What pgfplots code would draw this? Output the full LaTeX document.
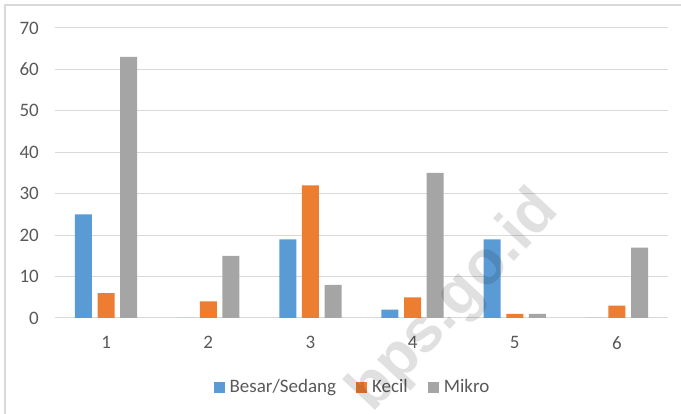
\documentclass[border=0pt]{standalone}
\usepackage{fontspec}
\setmainfont{Carlito}
\newfontfamily\wmfont{Liberation Sans}
\usepackage{pgfplots}
\usepackage{pgfplotstable}
\pgfplotsset{compat=1.18}

\definecolor{cBesar}{HTML}{5B9BD5}
\definecolor{cKecil}{HTML}{ED7D31}
\definecolor{cMikro}{HTML}{A5A5A5}
\definecolor{cGrid}{HTML}{D9D9D9}
\definecolor{cText}{HTML}{595959}
\definecolor{cBorder}{HTML}{D9D9D9}

% jumlah per kategori
\pgfplotstableread{
x besar kecil mikro
1 25 6  63
2 0  4  15
3 19 32 8
4 2  5  35
5 19 1  1
6 0  3  17
}\data

\begin{document}
\begin{tikzpicture}
\useasboundingbox (0,0) rectangle (681bp,414bp);
\draw[cBorder, line width=1.5bp] (5bp,0) -- (5bp,409bp) -- (681bp,409bp);
\begin{axis}[
  at={(55bp,96bp)}, anchor=south west,
  scale only axis, width=613bp, height=290bp,
  xmin=0.5, xmax=6.5, ymin=0, ymax=70,
  ytick={0,10,...,70}, xtick={1,...,6},
  axis line style={draw=none},
  major tick style={draw=none},
  ymajorgrids, grid style={cGrid, line width=1bp},
  ybar, bar width=17bp,
  tick label style={font=\fontsize{19bp}{22bp}\selectfont, text=cText, inner sep=0pt},
  /pgf/number format/assume math mode=true,
  xticklabel style={yshift=-14bp},
  yticklabel style={xshift=-16bp},
  legend columns=3,
  legend style={at={(0.4837,-0.238)}, anchor=center, draw=none, fill=none,
    font=\fontsize{19bp}{22bp}\selectfont, text=cText,
    nodes={inner sep=0pt},
    /tikz/every odd column/.append style={column sep=5bp},
    /tikz/every even column/.append style={column sep=20bp}},
  legend image code/.code={\fill[#1] (0bp,-5.5bp) rectangle (11bp,5.5bp);},
]
\addplot[fill=cBesar, draw=none, bar shift=-22.6bp] table[x=x, y=besar]{\data};
\addlegendentry{Besar/Sedang}
\addplot[fill=cKecil, draw=none, bar shift=0bp] table[x=x, y=kecil]{\data};
\addlegendentry{Kecil}
\addplot[fill=cMikro, draw=none, bar shift=22.6bp] table[x=x, y=mikro]{\data};
\addlegendentry{Mikro}
\end{axis}
\node[rotate=47, text=black, opacity=0.12,
  font=\wmfont\bfseries\fontsize{62bp}{62bp}\selectfont] at (455bp,112bp) {bps.go.id};
\end{tikzpicture}
\end{document}
